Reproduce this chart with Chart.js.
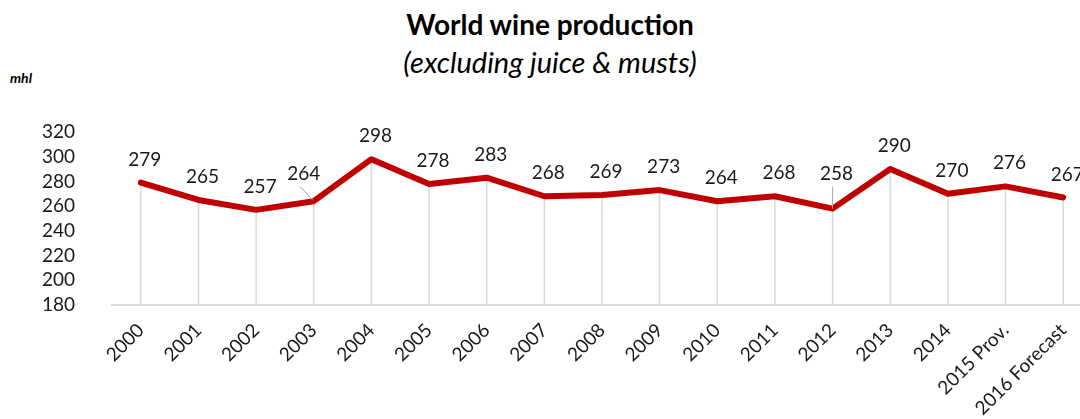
<!DOCTYPE html>
<html>
<head>
<meta charset="utf-8">
<script src="https://cdn.jsdelivr.net/npm/chart.js@4.4.0/dist/chart.umd.min.js"></script>
<style>
  html, body { margin: 0; padding: 0; background: #fff; overflow: hidden; }
  #wrap { position: relative; width: 1080px; height: 419px; overflow: hidden; }
  #cv { position: absolute; left: 0; top: 0; }
  .t { position: absolute; left: 0; width: 1100px; text-align: center; font-family: Lato, "Open Sans", sans-serif; color: #000; white-space: nowrap; }
  #title { top: 7px; font-size: 28px; font-weight: bold; }
  #sub { top: 44px; font-size: 29px; font-style: italic; }
  #unit { position: absolute; left: 10px; top: 69px; font-family: Lato, sans-serif; font-size: 14px; font-weight: bold; font-style: italic; }
</style>
</head>
<body>
<div id="wrap">
  <div id="title" class="t">World wine production</div>
  <div id="sub" class="t">(excluding juice &amp; musts)</div>
  <div id="unit">mhl</div>
  <canvas id="cv" width="1100" height="419" style="width:1100px;height:419px"></canvas>
</div>
<script>
const categories = ["2000","2001","2002","2003","2004","2005","2006","2007","2008","2009","2010","2011","2012","2013","2014","2015 Prov.","2016 Forecast"];
const production = [279,265,257,264,298,278,283,268,269,273,264,268,258,290,270,276,267];
const yTicks = [180,200,220,240,260,280,300,320];

const labelShift = { 3: [-10, -27], 12: [4, -35] };

const dropAndLabels = {
  id: 'dropAndLabels',
  beforeDatasetsDraw(chart) {
    const ctx = chart.ctx, xs = chart.scales.x, ys = chart.scales.y;
    ctx.save();
    ctx.strokeStyle = '#d9d9d9';
    ctx.lineWidth = 1.5;
    production.forEach((v, i) => {
      const x = xs.getPixelForValue(i), y = ys.getPixelForValue(v);
      ctx.beginPath(); ctx.moveTo(x, ys.bottom); ctx.lineTo(x, y); ctx.stroke();
    });
    ctx.restore();
  },
  afterDatasetsDraw(chart) {
    const ctx = chart.ctx, xs = chart.scales.x, ys = chart.scales.y;
    ctx.save();
    ctx.font = '19px Lato, "Open Sans", sans-serif';
    ctx.fillStyle = '#1a1a1a';
    ctx.textAlign = 'center';
    ctx.textBaseline = 'middle';
    production.forEach((v, i) => {
      const x = xs.getPixelForValue(i), y = ys.getPixelForValue(v);
      const s = labelShift[i] || [4, -23];
      const lx = x + s[0], ly = y + s[1];
      if (labelShift[i]) {
        ctx.strokeStyle = '#a6a6a6';
        ctx.lineWidth = 1;
        ctx.beginPath();
        if (i === 3) { ctx.moveTo(lx - 4, ly + 12); ctx.lineTo(x - 1, y - 1); }
        else { ctx.moveTo(x, ly + 13); ctx.lineTo(x, y); }
        ctx.stroke();
      }
      ctx.fillText(String(v), lx, ly);
    });
    ctx.restore();
  }
};

new Chart(document.getElementById('cv'), {
  type: 'line',
  data: {
    labels: categories,
    datasets: [{
      data: production,
      borderColor: '#C00000',
      borderWidth: 6,
      pointRadius: 0,
      pointHoverRadius: 0,
      tension: 0,
      borderJoinStyle: 'round',
      borderCapStyle: 'round',
      clip: false
    }]
  },
  options: {
    responsive: false,
    animation: false,
    events: [],
    layout: { padding: { top: 132, right: 8, bottom: 0, left: 0 } },
    plugins: { legend: { display: false }, tooltip: { enabled: false }, title: { display: false } },
    scales: {
      x: {
        offset: true,
        grid: { display: false, drawTicks: false },
        border: { display: true, color: '#d9d9d9', width: 2 },
        ticks: {
          font: { family: 'Lato, "Open Sans", sans-serif', size: 19 },
          color: '#1a1a1a',
          maxRotation: 45, minRotation: 45,
          autoSkip: false,
          padding: 14
        },
        afterFit(scale) { scale.height = 114; }
      },
      y: {
        min: 180, max: 320,
        afterBuildTicks(scale) { scale.ticks = yTicks.map(v => ({ value: v })); },
        grid: { display: false, drawTicks: false },
        border: { display: false },
        ticks: {
          font: { family: 'Lato, "Open Sans", sans-serif', size: 19 },
          color: '#1a1a1a',
          autoSkip: false,
          padding: 37
        },
        afterFit(scale) { scale.width = 112; }
      }
    }
  },
  plugins: [dropAndLabels]
});
</script>
</body>
</html>
